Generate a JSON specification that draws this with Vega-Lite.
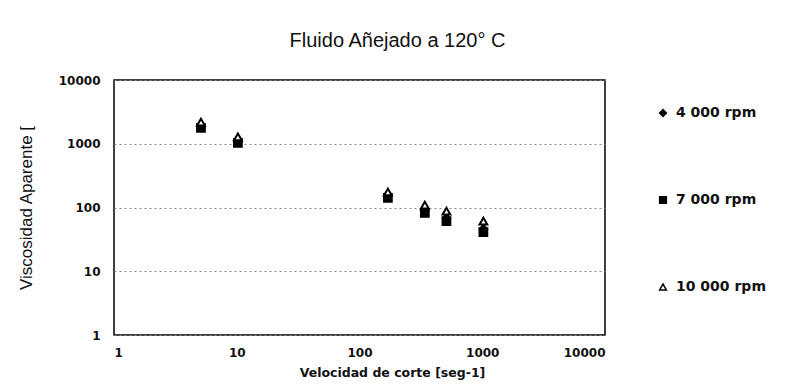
{
  "$schema": "https://vega.github.io/schema/vega-lite/v6.json",
  "autosize": "none",
  "width": 491,
  "height": 255,
  "padding": {"left": 114, "top": 80, "right": 187, "bottom": 55},
  "background": "white",
  "title": {
    "text": "Fluido Añejado a 120° C",
    "font": "Liberation Sans",
    "fontSize": 20,
    "fontWeight": "normal",
    "color": "#111",
    "anchor": "middle",
    "dx": 38,
    "offset": 23
  },
  "config": {
    "view": {"stroke": "black", "strokeWidth": 1.5},
    "axis": {"domain": false},
    "legend": {
      "orient": "none",
      "legendX": 542,
      "legendY": 26,
      "title": null,
      "rowPadding": 73,
      "symbolSize": 45,
      "symbolStrokeWidth": 1.5,
      "labelFont": "DejaVu Sans",
      "labelFontWeight": "bold",
      "labelFontSize": 14,
      "labelColor": "#111",
      "labelOffset": 6
    }
  },
  "data": {
    "values": [
      {"rate": 5.11, "visc": 1850, "serie": "4 000 rpm", "o": 1},
      {"rate": 10.22, "visc": 1080, "serie": "4 000 rpm", "o": 1},
      {"rate": 170.3, "visc": 152, "serie": "4 000 rpm", "o": 1},
      {"rate": 340.6, "visc": 90, "serie": "4 000 rpm", "o": 1},
      {"rate": 510.9, "visc": 68, "serie": "4 000 rpm", "o": 1},
      {"rate": 1021.8, "visc": 46, "serie": "4 000 rpm", "o": 1},
      {"rate": 5.11, "visc": 1770, "serie": "7 000 rpm", "o": 2},
      {"rate": 10.22, "visc": 1030, "serie": "7 000 rpm", "o": 2},
      {"rate": 170.3, "visc": 141, "serie": "7 000 rpm", "o": 2},
      {"rate": 340.6, "visc": 82, "serie": "7 000 rpm", "o": 2},
      {"rate": 510.9, "visc": 61, "serie": "7 000 rpm", "o": 2},
      {"rate": 1021.8, "visc": 41, "serie": "7 000 rpm", "o": 2},
      {"rate": 5.11, "visc": 2190, "serie": "10 000 rpm", "o": 3},
      {"rate": 10.22, "visc": 1280, "serie": "10 000 rpm", "o": 3},
      {"rate": 170.3, "visc": 175, "serie": "10 000 rpm", "o": 3},
      {"rate": 340.6, "visc": 109, "serie": "10 000 rpm", "o": 3},
      {"rate": 510.9, "visc": 88, "serie": "10 000 rpm", "o": 3},
      {"rate": 1021.8, "visc": 61, "serie": "10 000 rpm", "o": 3}
    ]
  },
  "mark": {"type": "point", "opacity": 1, "strokeWidth": 2, "stroke": "black", "size": 60},
  "encoding": {
    "x": {
      "field": "rate",
      "type": "quantitative",
      "scale": {"type": "log", "domain": [1, 10000], "nice": false},
      "axis": {
        "values": [1, 10, 100, 1000, 10000],
        "format": "d",
        "grid": false,
        "ticks": false,
        "labelPadding": 12,
        "labelFont": "DejaVu Sans",
        "labelFontWeight": "bold",
        "labelFontSize": 12,
        "labelColor": "#111",
        "title": "Velocidad de corte [seg-1]",
        "titleFont": "DejaVu Sans",
        "titleFontWeight": "bold",
        "titleFontSize": 12.5,
        "titleColor": "#111",
        "titleX": 278,
        "titlePadding": 8
      }
    },
    "y": {
      "field": "visc",
      "type": "quantitative",
      "scale": {"type": "log", "domain": [1, 10000], "nice": false},
      "axis": {
        "values": [1, 10, 100, 1000, 10000],
        "format": "d",
        "grid": true,
        "gridColor": "#888",
        "gridDash": [2, 3],
        "gridWidth": 1,
        "ticks": false,
        "labelPadding": 14,
        "labelFont": "DejaVu Sans",
        "labelFontWeight": "bold",
        "labelFontSize": 12,
        "labelColor": "#111",
        "title": "Viscosidad Aparente [",
        "titleFont": "Liberation Sans",
        "titleFontWeight": "normal",
        "titleFontSize": 17,
        "titleColor": "#111",
        "titlePadding": 23
      }
    },
    "shape": {
      "field": "serie",
      "type": "nominal",
      "scale": {"domain": ["4 000 rpm", "7 000 rpm", "10 000 rpm"], "range": ["diamond", "square", "triangle-up"]},
      "legend": {
        "encode": {
          "symbols": {"update": {"stroke": {"value": "black"}, "strokeWidth": {"value": 1.5}}}
        }
      }
    },
    "fill": {
      "field": "serie",
      "type": "nominal",
      "scale": {"domain": ["4 000 rpm", "7 000 rpm", "10 000 rpm"], "range": ["black", "black", "white"]},
      "legend": {
        "encode": {
          "symbols": {"update": {"stroke": {"value": "black"}, "strokeWidth": {"value": 1.5}}}
        }
      }
    },
    "order": {"field": "o"}
  }
}
